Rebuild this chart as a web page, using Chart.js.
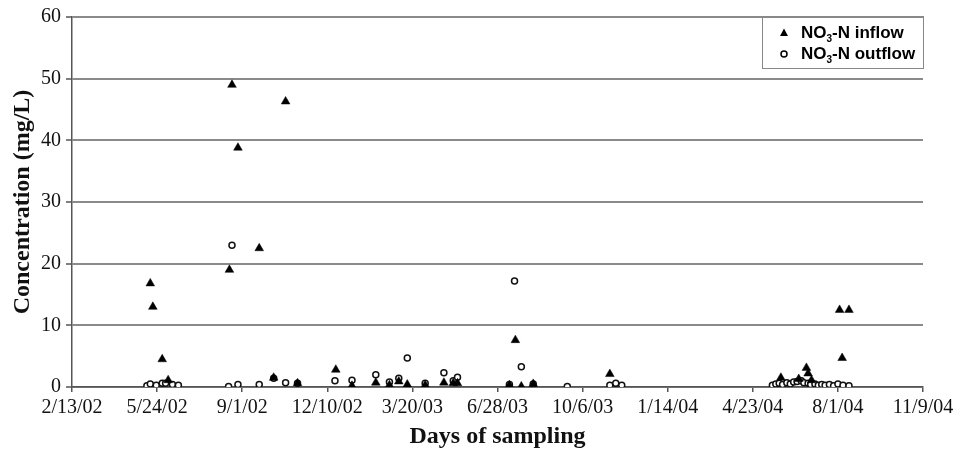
<!DOCTYPE html>
<html>
<head>
<meta charset="utf-8">
<script src="https://cdn.jsdelivr.net/npm/chart.js@4/dist/chart.umd.min.js"></script>
<style>
  body { margin: 0; background: #fff; }
  #wrap { width: 953px; height: 449px; }
</style>
</head>
<body>
<div id="wrap"><canvas id="myScatterChart" width="953" height="449"></canvas></div>
<script>
// days counted from 2/13/02 (axis starts there, ticks every 100 days)
const tickLabels = ['2/13/02', '5/24/02', '9/1/02', '12/10/02', '3/20/03', '6/28/03',
    '10/6/03', '1/14/04', '4/23/04', '8/1/04', '11/9/04'];

const inflowDays = [92, 95, 106, 113, 185, 188, 195, 220, 237, 251, 265, 310, 329, 357, 373,
    384, 394, 415, 437, 448, 453, 514, 521, 528, 542, 632, 833, 854, 863, 865, 869, 902, 905, 913];
const inflowValues = [16.8, 13.0, 4.5, 1.1, 19.0, 49.0, 38.8, 22.5, 1.5, 46.3, 0.6, 2.8, 0.2, 0.7, 0.3,
    0.9, 0.4, 0.3, 0.7, 0.6, 0.6, 0.3, 7.6, 0.1, 0.5, 2.1, 1.5, 1.3, 3.1, 2.2, 1.1, 12.5, 4.7, 12.5];

const outflowDays = [88, 92, 99, 106, 110, 118, 125, 184, 188, 195, 220, 237, 251, 265,
    309, 329, 357, 373, 384, 394, 415, 437, 448, 453, 514, 520, 528, 542, 582, 632, 639, 646,
    823, 827, 831, 835, 840, 844, 848, 852, 857, 860, 865, 868, 873, 877, 881, 885, 890, 895, 900, 906, 913];
const outflowValues = [0.2, 0.5, 0.3, 0.6, 0.6, 0.4, 0.3, 0.1, 23.0, 0.4, 0.4, 1.4, 0.7, 0.6,
    1.0, 1.1, 2.0, 0.8, 1.4, 4.7, 0.6, 2.3, 1.0, 1.6, 0.4, 17.2, 3.3, 0.5, 0.1, 0.3, 0.6, 0.3,
    0.3, 0.5, 0.6, 0.4, 0.7, 0.5, 0.8, 0.9, 1.0, 0.7, 0.6, 0.4, 0.5, 0.3, 0.4, 0.3, 0.4, 0.2, 0.5, 0.3, 0.2];

const toPoints = (days, values) => days.map((d, i) => ({ x: d, y: values[i] }));

// leyenda dibujada dentro del area del grafico, con subindice
const legendInside = {
    id: 'legendInside',
    afterDraw(chart) {
        const ctx = chart.ctx;
        const area = chart.chartArea;
        const bx = area.right - 161, by = area.top - 1, bw = 161, bh = 52;
        ctx.save();
        ctx.strokeStyle = '#888';
        ctx.lineWidth = 1;
        ctx.strokeRect(bx + 0.5, by + 0.5, bw, bh);
        const rows = [
            { y: by + 17, end: '-N inflow', style: 'triangle' },
            { y: by + 38, end: '-N outflow', style: 'circle' }
        ];
        rows.forEach(r => {
            const mx = bx + 22;
            ctx.fillStyle = '#000';
            ctx.strokeStyle = '#000';
            if (r.style === 'triangle') {
                ctx.beginPath();
                ctx.moveTo(mx, r.y - 4.5);
                ctx.lineTo(mx + 4, r.y + 3);
                ctx.lineTo(mx - 4, r.y + 3);
                ctx.closePath();
                ctx.fill();
            } else {
                ctx.lineWidth = 1.5;
                ctx.beginPath();
                ctx.arc(mx, r.y, 3, 0, Math.PI * 2);
                ctx.stroke();
            }
            let tx = bx + 39;
            ctx.textBaseline = 'middle';
            ctx.textAlign = 'left';
            ctx.font = 'bold 17px "Liberation Sans", Arial, sans-serif';
            ctx.fillText('NO', tx, r.y);
            tx += ctx.measureText('NO').width;
            ctx.font = 'bold 10px "Liberation Sans", Arial, sans-serif';
            ctx.fillText('3', tx, r.y + 6);
            tx += ctx.measureText('3').width;
            ctx.font = 'bold 17px "Liberation Sans", Arial, sans-serif';
            ctx.fillText(r.end, tx, r.y);
        });
        ctx.restore();
    }
};

const ctxScatter = document.getElementById('myScatterChart').getContext('2d');
const myScatterChart = new Chart(ctxScatter, {
    type: 'scatter',
    data: {
        datasets: [{
            label: 'NO3-N inflow',
            data: toPoints(inflowDays, inflowValues),
            pointStyle: 'triangle',
            pointRadius: 5,
            backgroundColor: '#000',
            borderColor: '#000',
            borderWidth: 0.5
        }, {
            label: 'NO3-N outflow',
            data: toPoints(outflowDays, outflowValues),
            pointStyle: 'circle',
            pointRadius: 3,
            backgroundColor: '#fff',
            borderColor: '#111',
            borderWidth: 1.5
        }]
    },
    options: {
        responsive: false,
        animation: false,
        layout: { padding: { top: 14, right: 30, left: 0, bottom: 0 } },
        plugins: {
            legend: { display: false },
            tooltip: { enabled: false }
        },
        scales: {
            x: {
                type: 'linear',
                min: 0,
                max: 1000,
                afterFit: s => { s.height = 62; s.paddingLeft = 0; s.paddingRight = 0; },
                ticks: {
                    stepSize: 100,
                    autoSkip: false,
                    maxRotation: 0,
                    padding: 4,
                    color: '#111',
                    font: { family: '"Liberation Serif", "Times New Roman", serif', size: 20 },
                    callback: v => tickLabels[Math.round(v / 100)]
                },
                grid: { drawOnChartArea: false, drawTicks: true, tickLength: 5, color: '#555', lineWidth: 1.5 },
                border: { color: '#555', width: 1.5 },
                title: {
                    display: true,
                    text: 'Days of sampling',
                    color: '#111',
                    padding: { top: 0, bottom: 0 },
                    font: { family: '"Liberation Serif", "Times New Roman", serif', size: 24, weight: 'bold', lineHeight: 1 }
                }
            },
            y: {
                min: 0,
                max: 60,
                afterFit: s => { s.width = 72; },
                ticks: {
                    stepSize: 10,
                    padding: 5,
                    color: '#111',
                    font: { family: '"Liberation Serif", "Times New Roman", serif', size: 20 }
                },
                grid: { color: '#8a8a8a', lineWidth: 2, tickLength: 6, tickColor: '#555', tickWidth: 1.5 },
                border: { color: '#555', width: 1.5 },
                title: {
                    display: true,
                    text: 'Concentration (mg/L)',
                    color: '#111',
                    padding: { top: 11, bottom: 0 },
                    font: { family: '"Liberation Serif", "Times New Roman", serif', size: 24, weight: 'bold', lineHeight: 1 }
                }
            }
        }
    },
    plugins: [legendInside]
});
</script>
</body>
</html>
